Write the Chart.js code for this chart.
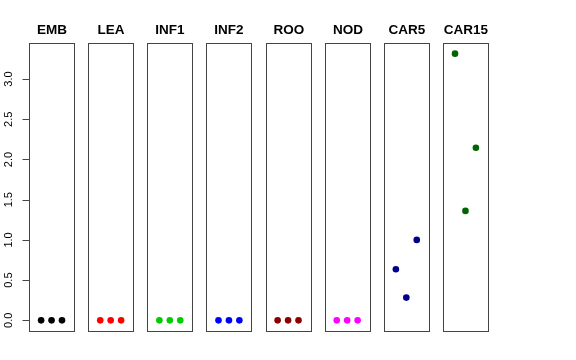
<!DOCTYPE html>
<html>
<head>
<meta charset="utf-8">
<script src="https://cdn.jsdelivr.net/npm/chart.js@4/dist/chart.umd.min.js"></script>
<style>
  html, body { margin: 0; padding: 0; background: #fff; }
  #wrap { width: 576px; height: 360px; position: relative; }
</style>
</head>
<body>
<div id="wrap"><canvas id="c" width="576" height="360"></canvas></div>
<script>
// panel names + colours
const panels = ['EMB', 'LEA', 'INF1', 'INF2', 'ROO', 'NOD', 'CAR5', 'CAR15'];
const colors = ['#000000', '#ff0000', '#00cd00', '#0000ff', '#8b0000', '#ff00ff', '#00008b', '#006400'];

// three replicates per panel
const valEMB   = [0, 0, 0];
const valLEA   = [0, 0, 0];
const valINF1  = [0, 0, 0];
const valINF2  = [0, 0, 0];
const valROO   = [0, 0, 0];
const valNOD   = [0, 0, 0];
const valCAR5  = [0.635, 0.283, 1.0];
const valCAR15 = [3.316, 1.361, 2.146];
const values = [valEMB, valLEA, valINF1, valINF2, valROO, valNOD, valCAR5, valCAR15];

const yTicks = [0, 0.5, 1.0, 1.5, 2.0, 2.5, 3.0];

// each panel spans x = 0..4 (R pads 4%), panels sit side by side with a gap
const PAD = 0.16;
const PITCH = 5.663;
const xMin = -PAD;
const xMax = (panels.length - 1) * PITCH + 4 + PAD;
const yMin = -0.1326, yMax = 3.4486;

const datasets = panels.map((name, i) => ({
  label: name,
  data: values[i].map((v, j) => ({ x: i * PITCH + (j + 1), y: v })),
  backgroundColor: colors[i],
  borderColor: colors[i],
  borderWidth: 0,
  pointRadius: 3.3,
  pointHoverRadius: 3.3
}));

const panelFrames = {
  id: 'panelFrames',
  afterDraw(chart) {
    const { ctx, scales: { x, y } } = chart;
    const top = Math.round(y.getPixelForValue(yMax)) + 0.5;
    const bottom = Math.round(y.getPixelForValue(yMin)) + 0.5;
    ctx.save();
    ctx.strokeStyle = '#444';
    ctx.lineWidth = 1;
    panels.forEach((name, i) => {
      const l = Math.round(x.getPixelForValue(i * PITCH - PAD)) + 0.5;
      const r = Math.round(x.getPixelForValue(i * PITCH + 4 + PAD)) + 0.5;
      ctx.strokeRect(l, top, r - l, bottom - top);
      ctx.fillStyle = '#000';
      ctx.font = 'bold 13.5px "Liberation Sans", Arial, sans-serif';
      ctx.textAlign = 'center';
      ctx.textBaseline = 'middle';
      ctx.fillText(name, (l + r) / 2, 30);
    });
    // left axis
    const axL = Math.round(x.getPixelForValue(xMin)) + 0.5;
    ctx.beginPath();
    yTicks.forEach(t => {
      const py = Math.round(y.getPixelForValue(t)) + 0.5;
      ctx.moveTo(axL - 7, py);
      ctx.lineTo(axL, py);
    });
    ctx.stroke();
    ctx.font = '11px "Liberation Sans", Arial, sans-serif';
    ctx.fillStyle = '#000';
    yTicks.forEach(t => {
      const py = y.getPixelForValue(t);
      ctx.save();
      ctx.translate(9, py);
      ctx.rotate(-Math.PI / 2);
      ctx.textAlign = 'center';
      ctx.textBaseline = 'middle';
      ctx.fillText(t.toFixed(1), 0, 0);
      ctx.restore();
    });
    ctx.restore();
  }
};

new Chart(document.getElementById('c'), {
  type: 'scatter',
  data: { datasets },
  options: {
    responsive: false,
    animation: false,
    layout: { padding: { left: 29, top: 43, right: 88, bottom: 29 } },
    scales: {
      x: { type: 'linear', min: xMin, max: xMax, display: false },
      y: { type: 'linear', min: yMin, max: yMax, display: false }
    },
    plugins: { legend: { display: false }, tooltip: { enabled: false } }
  },
  plugins: [panelFrames]
});
</script>
</body>
</html>
